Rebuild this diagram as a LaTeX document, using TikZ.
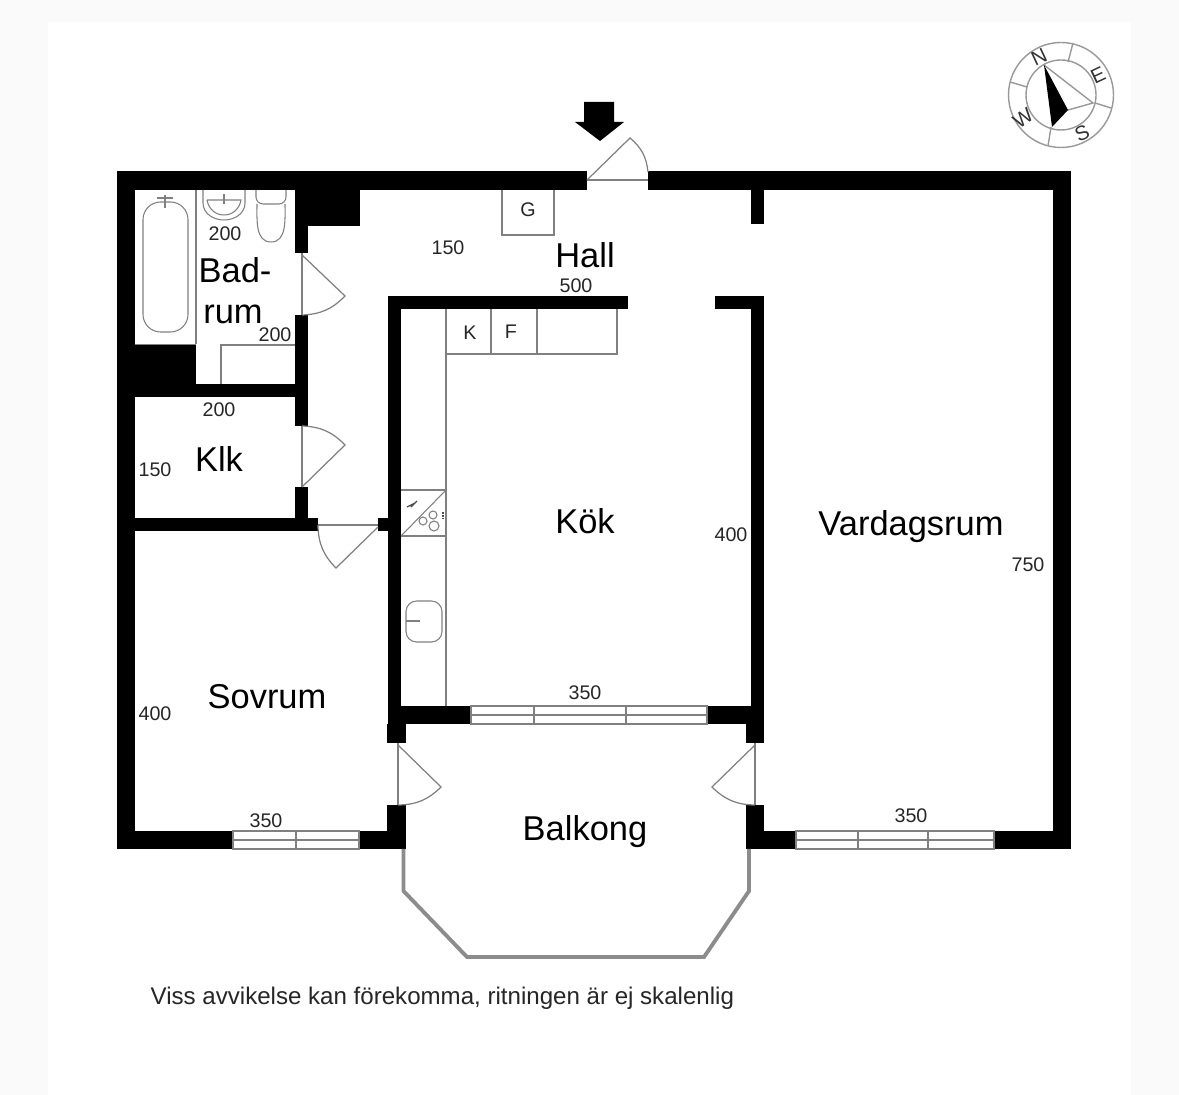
\documentclass[tikz,border=0pt]{standalone}
\usepackage{fontspec}
\setmainfont{Liberation Sans}
\definecolor{wallblack}{gray}{0}
\definecolor{thinline}{gray}{0.5}
\definecolor{railgray}{gray}{0.55}
\definecolor{pagegray}{gray}{0.98}
\tikzset{
    wall/.style={fill=wallblack},
    thin line/.style={draw=thinline,line width=0.3pt},
    door/.style={draw=thinline,line width=0.35pt},
    rail/.style={draw=railgray,line width=1.1pt,line join=miter},
    ring/.style={draw=black!40,line width=0.4pt},
    room/.style={font=\fontsize{9.8}{11}\selectfont,inner sep=0pt},
    dim/.style={font=\fontsize{5.6}{7}\selectfont,inner sep=0pt,text=black!85},
    compassmark/.style={font=\fontsize{5.8}{7}\selectfont,inner sep=0pt,text=black!80}
}

\begin{document}
\begin{tikzpicture}[x=0.01cm,y=-0.01cm]
    \useasboundingbox (0,0) rectangle (1179,1095);
    \fill[pagegray] (0,0) rectangle (1179,1095);
    \fill[white] (48,22) rectangle (1131,1095);

    % outer walls
    \fill[wall] (117,171) rectangle (587,190);
    \fill[wall] (648,171) rectangle (1071,190);
    \fill[wall] (117,171) rectangle (135,849);
    \fill[wall] (1053,171) rectangle (1071,849);
    \fill[wall] (117,831) rectangle (233,849);
    \fill[wall] (359,831) rectangle (406,849);
    \fill[wall] (746,831) rectangle (796,849);
    \fill[wall] (994,831) rectangle (1071,849);

    % bathroom and closet walls
    \fill[wall] (295,190) rectangle (360,226);
    \fill[wall] (295,226) rectangle (308,253);
    \fill[wall] (295,315) rectangle (308,426);
    \fill[wall] (135,384) rectangle (308,397);
    \fill[wall] (135,344) rectangle (196,384);
    \fill[wall] (295,487) rectangle (308,531);
    \fill[wall] (135,518) rectangle (318,531);

    % kitchen walls
    \fill[wall] (388,296) rectangle (628,309);
    \fill[wall] (715,296) rectangle (764,309);
    \fill[wall] (751,190) rectangle (764,224);
    \fill[wall] (388,296) rectangle (401,743);
    \fill[wall] (378,518) rectangle (388,531);
    \fill[wall] (751,296) rectangle (764,743);
    \fill[wall] (388,706) rectangle (471,724);
    \fill[wall] (707,706) rectangle (764,724);
    \fill[wall] (387,724) rectangle (406,743);
    \fill[wall] (746,724) rectangle (764,743);
    \fill[wall] (387,805) rectangle (406,849);
    \fill[wall] (746,805) rectangle (764,849);

    % entrance arrow
    \fill[wall] (584,102) -- (614,102) -- (614,122) -- (624,122) -- (600,141) -- (575,122) -- (584,122) -- cycle;

    % doors
    \draw[door] (587,180) -- (648,180);
    \draw[door] (587,180) -- (630,138) to[bend left=22] (648,172);
    \draw[door] (302,253) -- (302,315);
    \draw[door] (302,255) -- (345,296) to[bend left=22] (302,315);
    \draw[door] (302,426) -- (302,487);
    \draw[door] (302,487) -- (345,445) to[bend right=22] (302,426);
    \draw[door] (318,525) -- (378,525);
    \draw[door] (378,527) -- (336,568) to[bend left=22] (318,525);
    \draw[door] (398,743) -- (398,805);
    \draw[door] (398,745) -- (441,787) to[bend left=22] (398,805);
    \draw[door] (755,743) -- (755,805);
    \draw[door] (755,745) -- (712,787) to[bend right=22] (755,805);

    % windows
    \draw[thin line] (471,706) rectangle (707,724);
    \draw[thin line] (471,715) -- (707,715);
    \draw[thin line] (534,706) -- (534,724);
    \draw[thin line] (626,706) -- (626,724);
    \draw[thin line] (233,831) rectangle (359,849);
    \draw[thin line] (233,840) -- (359,840);
    \draw[thin line] (296,831) -- (296,849);
    \draw[thin line] (796,831) rectangle (994,849);
    \draw[thin line] (796,840) -- (994,840);
    \draw[thin line] (858,831) -- (858,849);
    \draw[thin line] (928,831) -- (928,849);

    % balcony
    \draw[rail] (403.5,849) -- (403.5,891) -- (467,957) -- (704,957) -- (749,891) -- (749,849);

    % bathroom fittings
    \draw[thin line] (196,190) -- (196,344);
    \draw[thin line] (135,344.5) -- (196,344.5);
    \draw[thin line,rounded corners=5pt] (143,202) rectangle (188,332);
    \draw[thin line] (157,198) -- (173,198);
    \draw[thin line] (165,195) -- (165,208);
    \draw[thin line] (203,190) -- (203,203) to[out=-90,in=180] (224,220) to[out=0,in=-90] (245,203) -- (245,190);
    \draw[thin line] (207,200) -- (241,200) to[out=-100,in=0] (224,215) to[out=180,in=-80] (207,200);
    \draw[thin line] (224,194) -- (224,204);
    \draw[thin line,rounded corners=2pt] (256,190) -- (256,204) -- (286,204) -- (286,190);
    \draw[thin line] (257,204) to[out=-90,in=180] (271,242) to[out=0,in=-90] (285,204);
    \draw[thin line] (295,345) -- (221,345) -- (221,384);

    % kitchen fittings
    \draw[thin line] (502,190) -- (502,235) -- (554,235) -- (554,190);
    \draw[thin line] (446,309) -- (446,706);
    \draw[thin line] (446,354) -- (617,354) -- (617,309);
    \draw[thin line] (491,309) -- (491,354);
    \draw[thin line] (537,309) -- (537,354);
    \draw[thin line] (401,490) -- (446,490);
    \draw[thin line] (401,536) -- (446,536);
    \draw[thin line] (401,536) -- (446,490);
    \draw[thin line] (423,521) circle (4);
    \draw[thin line] (433,515) circle (4);
    \draw[thin line] (434,526) circle (5);
    \draw[draw=black!70,line width=0.5pt,dash pattern=on 0.5pt off 0.3pt] (443,512) -- (443,520);
    \draw[draw=black!70,line width=0.35pt] (407,507) -- (413,504) -- (411,507) -- (417,501);
    \draw[thin line,rounded corners=3pt] (406,601) rectangle (442,642);
    \draw[thin line] (406,621) -- (420,621);

    % room names
    \node[room] (badtop) at (235,270) {Bad-};
    \node[room] (badbottom) at (233,314) {rum};
    \node[room] (hall) at (585,255) {Hall};
    \node[room] (klk) at (219,459) {Klk};
    \node[room] (kok) at (585,521) {Kök};
    \node[room] (vardagsrum) at (911,527) {Vardagsrum};
    \node[room] (sovrum) at (267,697) {Sovrum};
    \node[room] (balkong) at (585,832) {Balkong};

    % measures and appliances
    \node[dim] (badwidth) at (225,234) {200};
    \node[dim] (baddepth) at (275,335) {200};
    \node[dim] (halldepth) at (448,248) {150};
    \node[dim] (hallwidth) at (576,286) {500};
    \node[dim] (klkwidth) at (219,410) {200};
    \node[dim] (klkdepth) at (155,470) {150};
    \node[dim] (kokdepth) at (731,535) {400};
    \node[dim] (kokwidth) at (585,693) {350};
    \node[dim] (vardagdepth) at (1028,565) {750};
    \node[dim] (vardagwidth) at (911,816) {350};
    \node[dim] (sovdepth) at (155,714) {400};
    \node[dim] (sovwidth) at (266,821) {350};
    \node[dim] (gas) at (528,210) {G};
    \node[dim] (kyl) at (470,333) {K};
    \node[dim] (frys) at (511,332) {F};

    \node[inner sep=0pt,anchor=west,font=\fontsize{6.85}{8}\selectfont,text=black!85] (footnote) at (150,998) {Viss avvikelse kan förekomma, ritningen är ej skalenlig};

    % compass
    \draw[ring] (1061,95) circle (52.5);
    \draw[ring] (1061,95) circle (35);
    \draw[ring] (1068,62) -- (1073,43);
    \draw[ring] (1095,103) -- (1111,108);
    \draw[ring] (1051,127) -- (1048,146);
    \draw[ring] (1010,82) -- (1027,87);
    \draw[ring] (1044,65) -- (1093,103) -- (1068,110);
    \fill[wall] (1044,65) -- (1068,110) -- (1052,127) -- cycle;
    \node[compassmark,rotate=25] (north) at (1039,57) {N};
    \node[compassmark,rotate=25] (east) at (1098,75) {E};
    \node[compassmark,rotate=25] (south) at (1082,133) {S};
    \node[compassmark,rotate=35] (west) at (1023,118) {W};
\end{tikzpicture}
\end{document}
